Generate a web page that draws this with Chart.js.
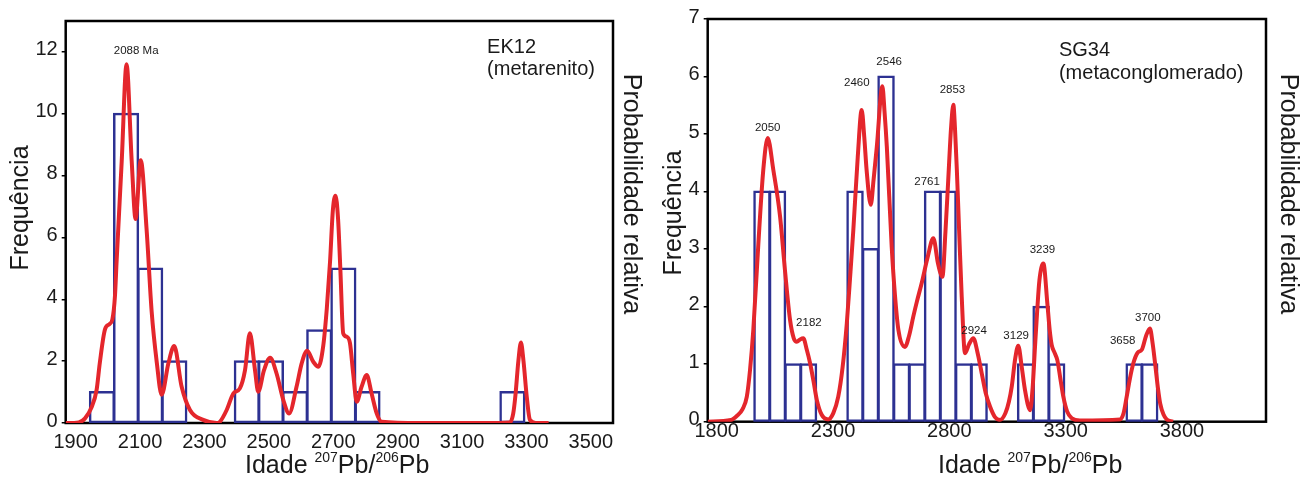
<!DOCTYPE html>
<html>
<head>
<meta charset="utf-8">
<script src="https://cdn.jsdelivr.net/npm/chart.js@4.4.1/dist/chart.umd.min.js"></script>
<style>
  html, body { margin: 0; padding: 0; background: #fff; }
  #wrap { position: relative; width: 1309px; height: 477px; overflow: hidden; }
  canvas { position: absolute; top: 0; }
  #ek12 { left: 0; }
  #sg34 { left: 660px; }
</style>
</head>
<body>
<div id="wrap">
  <canvas id="ek12" width="660" height="477"></canvas>
  <canvas id="sg34" width="649" height="477"></canvas>
</div>
<script>
// EK12 (metarenito): histograma em classes de 75 Ma
const ek12BinStart = [1975, 2050, 2125, 2200, 2425, 2500, 2575, 2650, 2725, 2800, 3250];
const ek12Counts = [1, 10, 5, 2, 2, 2, 1, 3, 5, 1, 1];
const ek12BinWidth = 75;
// curva de probabilidade relativa (em unidades de frequencia)
const ek12CurveAge = [1900, 1940, 1960, 1980, 1996, 2006, 2022, 2036, 2045, 2053, 2058, 2074, 2089, 2105, 2117,
  2133, 2151, 2167, 2183, 2198, 2219, 2237, 2260, 2286, 2327, 2369, 2379, 2400, 2421, 2441, 2457, 2472, 2488, 2498,
  2516, 2535, 2555, 2576, 2594, 2617, 2633, 2650, 2669, 2685, 2700, 2711, 2721, 2730, 2738, 2746, 2753, 2762, 2773,
  2783, 2793, 2804, 2819, 2835, 2850, 2866, 2881, 3000, 3200, 3280, 3290, 3297, 3306, 3314, 3322, 3332, 3342, 3360, 3400];
const ek12CurveProb = [0, 0.02, 0.15, 0.5, 1.07, 1.95, 3.03, 3.2, 3.35, 4.1, 5.2, 8.47, 11.6, 8.47, 6.6,
  8.5, 6.3, 3.6, 1.95, 0.91, 1.93, 2.49, 1.18, 0.42, 0.1, 0, 0.04, 0.42, 0.96, 1.12, 1.71, 2.9, 1.71, 1.01,
  1.71, 2.11, 1.6, 0.74, 0.31, 1.17, 1.93, 2.34, 1.98, 1.82, 2.5, 3.7, 5.2, 6.9, 7.35, 6.6, 5.0, 2.9, 2.79,
  2.58, 1.6, 0.69, 1.17, 1.55, 0.96, 0.31, 0.04, 0, 0, 0.02, 0.3, 0.9, 2.0, 2.6, 2.0, 0.86, 0.1, 0, 0];
const ek12AgeTicks = [1900, 2100, 2300, 2500, 2700, 2900, 3100, 3300, 3500];
const ek12FreqTicks = [0, 2, 4, 6, 8, 10, 12];
const ek12PeakText = ['2088 Ma'];
const ek12PeakAge = [2119];
const ek12PeakLevel = [12.04];

// SG34 (metaconglomerado): classes de 66,7 Ma
const sg34BinStart = [2000, 2066.67, 2133.33, 2200, 2400, 2466.67, 2533.33, 2600, 2666.67, 2733.33,
  2800, 2866.67, 2933.33, 3133.33, 3200, 3266.67, 3600, 3666.67];
const sg34Counts = [4, 4, 1, 1, 4, 3, 6, 1, 1, 4, 4, 1, 1, 1, 2, 1, 1, 1];
const sg34BinWidth = 66.67;
const sg34CurveAge = [1800, 1900, 1925, 1950, 1968, 1982, 1996, 2017, 2039, 2058, 2082, 2111, 2132, 2154, 2170,
  2183, 2197, 2211, 2226, 2240, 2255, 2269, 2290, 2318, 2340, 2361, 2380, 2398, 2412, 2426, 2445, 2462, 2473, 2483,
  2501, 2513, 2527, 2551, 2560, 2570, 2591, 2605, 2620, 2648, 2666, 2684, 2700, 2720, 2745, 2770, 2790, 2809, 2822,
  2834, 2846, 2856, 2863, 2871, 2881, 2892, 2906, 2924, 2942, 2960, 2978, 2995, 3014, 3035, 3057, 3080, 3095, 3107,
  3122, 3135, 3150, 3164, 3186, 3197, 3207, 3216, 3226, 3243, 3260, 3270, 3279, 3291, 3303, 3316, 3329, 3345, 3365,
  3400, 3573, 3588, 3601, 3615, 3630, 3648, 3666, 3685, 3701, 3713, 3723, 3735, 3745, 3760, 3773, 3800];
const sg34CurveProb = [0, 0.03, 0.1, 0.22, 0.43, 0.9, 1.59, 3.04, 4.38, 4.93, 4.38, 3.57, 2.64, 1.77, 1.45,
  1.39, 1.43, 1.45, 1.25, 1.02, 0.7, 0.38, 0.12, 0.04, 0.15, 0.43, 0.95, 1.71, 2.5, 3.33, 4.6, 5.42, 4.95, 4.38,
  3.77, 4.2, 4.78, 5.83, 5.4, 4.78, 3.04, 2.2, 1.59, 1.3, 1.5, 1.83, 2.1, 2.41, 2.85, 3.19, 2.75, 2.52, 3.3,
  4.2, 5.1, 5.51, 5.1, 4.38, 3.3, 2.17, 1.19, 1.35, 1.45, 1.2, 0.84, 0.5, 0.26, 0.08, 0.03, 0.15, 0.35, 0.61,
  1.1, 1.32, 0.95, 0.55, 0.2, 0.6, 1.3, 1.9, 2.46, 2.75, 2.06, 1.6, 1.33, 1.2, 1.07, 0.75, 0.43, 0.18, 0.06,
  0.02, 0.04, 0.15, 0.43, 0.75, 1.02, 1.2, 1.25, 1.5, 1.62, 1.35, 1.02, 0.6, 0.32, 0.12, 0.04, 0];
const sg34AgeTicks = [1800, 2300, 2800, 3300, 3800];
const sg34FreqTicks = [0, 1, 2, 3, 4, 5, 6, 7];
const sg34PeakText = ['2050', '2182', '2460', '2546', '2761', '2853', '2924', '3129', '3239', '3658', '3700'];
const sg34PeakAge = [2058, 2235, 2441, 2580, 2743, 2852, 2945, 3126, 3239, 3584, 3692];
const sg34PeakLevel = [5.11, 1.72, 5.89, 6.26, 4.17, 5.77, 1.58, 1.49, 2.99, 1.41, 1.80];

const FONT = "'Liberation Sans', Arial, Helvetica, sans-serif";
const BLUE = '#2d3192';
const RED = '#e4262c';
const INK = '#1a1a1a';

Chart.defaults.font.family = FONT;
Chart.defaults.color = INK;

// moldura, rotulos dos picos, nomes da amostra e titulos dos eixos
const decor = {
  id: 'decor',
  beforeDatasetsDraw(chart) {
    const { ctx, chartArea: a } = chart;
    ctx.save();
    ctx.lineWidth = 2.5;
    ctx.strokeStyle = '#000';
    ctx.strokeRect(a.left, a.top, a.right - a.left, a.bottom - a.top);
    ctx.restore();
  },
  afterDraw(chart, args, o) {
    const { ctx } = chart;
    const sx = chart.scales.x, sy = chart.scales.y;
    ctx.save();
    ctx.fillStyle = INK;
    ctx.textBaseline = 'middle';

    ctx.font = '20px ' + FONT;
    ctx.textAlign = 'left';
    o.sample.forEach((t, i) => {
      ctx.fillText(t, sx.getPixelForValue(o.sampleAge), sy.getPixelForValue(o.sampleLevel[i]));
    });

    ctx.font = '11.5px ' + FONT;
    ctx.textAlign = 'center';
    o.peakText.forEach((t, i) => {
      ctx.fillText(t, sx.getPixelForValue(o.peakAge[i]), sy.getPixelForValue(o.peakLevel[i]));
    });

    ctx.font = '25px ' + FONT;
    const rotated = (text, x, y, rot) => {
      ctx.save();
      ctx.translate(x, y);
      ctx.rotate(rot);
      ctx.fillText(text, 0, 0);
      ctx.restore();
    };
    rotated('Frequência', o.freqTitle[0], o.freqTitle[1], -Math.PI / 2);
    rotated('Probabilidade relativa', o.probTitle[0], o.probTitle[1], Math.PI / 2);

    // Idade 207Pb/206Pb com sobrescritos
    const parts = [['Idade ', false], ['207', true], ['Pb/', false], ['206', true], ['Pb', false]];
    let cx = o.ageTitle[0];
    ctx.textAlign = 'left';
    ctx.textBaseline = 'alphabetic';
    parts.forEach(([t, sup]) => {
      ctx.font = (sup ? '14px ' : '25px ') + FONT;
      ctx.fillText(t, cx, o.ageTitle[1] - (sup ? 11 : 0));
      cx += ctx.measureText(t).width;
    });
    ctx.restore();
  }
};

function makeChart(id, c) {
  return new Chart(document.getElementById(id), {
    type: 'bar',
    data: {
      datasets: [{
        type: 'line',
        data: c.curveAge.map((a, i) => ({ x: a, y: c.curveProb[i] })),
        yAxisID: 'y2',
        borderColor: RED,
        borderWidth: 4,
        pointRadius: 0,
        fill: false,
        cubicInterpolationMode: 'monotone',
        order: 0
      }, {
        type: 'bar',
        data: c.binStart.map((b, i) => ({ x: b + c.binWidth / 2, y: c.counts[i] })),
        yAxisID: 'y',
        backgroundColor: 'rgba(0,0,0,0)',
        borderColor: BLUE,
        borderWidth: 0.5,
        inflateAmount: 1,
        borderSkipped: false,
        barPercentage: 1,
        categoryPercentage: 1,
        order: 1
      }]
    },
    options: {
      responsive: false,
      animation: false,
      devicePixelRatio: 1,
      layout: { padding: { top: c.top, left: 0, right: 0, bottom: 0 } },
      plugins: {
        legend: { display: false },
        tooltip: { enabled: false },
        decor: c.decor
      },
      scales: {
        x: {
          type: 'linear',
          min: c.xMin,
          max: c.xMax,
          offset: false,
          grid: { display: false, drawTicks: false, offset: false },
          border: { display: false },
          afterBuildTicks: s => { s.ticks = c.xTicks.map(v => ({ value: v })); },
          afterFit: s => { s.height = c.xHeight; },
          ticks: {
            font: { size: 20, lineHeight: 1 },
            color: INK,
            padding: c.xPad,
            labelOffset: c.xLabelOffset,
            maxRotation: 0,
            autoSkip: false,
            callback: v => String(v)
          }
        },
        y: {
          position: 'left',
          min: 0,
          max: c.yMax,
          afterBuildTicks: s => { s.ticks = c.yTicks.map(v => ({ value: v })); },
          afterFit: s => { s.width = c.yWidth; },
          grid: { drawOnChartArea: false, drawTicks: true, tickLength: 4, color: '#000', lineWidth: 1.5 },
          border: { display: false },
          ticks: {
            font: { size: 20 },
            color: INK,
            padding: 4,
            labelOffset: -2,
            autoSkip: false,
            callback: v => String(v)
          }
        },
        y2: {
          position: 'right',
          min: 0,
          max: c.yMax,
          grid: { display: false },
          border: { display: false },
          ticks: { display: false },
          afterFit: s => { s.width = c.y2Width; }
        }
      }
    },
    plugins: [decor]
  });
}

makeChart('ek12', {
  binStart: ek12BinStart, counts: ek12Counts, binWidth: ek12BinWidth,
  curveAge: ek12CurveAge, curveProb: ek12CurveProb,
  xTicks: ek12AgeTicks, yTicks: ek12FreqTicks,
  xMin: 1900, xMax: 3600, yMax: 13,
  top: 21, xHeight: 54, yWidth: 65.7, y2Width: 47, xPad: 9, xLabelOffset: 10,
  decor: {
    sample: ['EK12', '(metarenito)'], sampleAge: 3209, sampleLevel: [12.14, 11.42],
    peakText: ek12PeakText, peakAge: ek12PeakAge, peakLevel: ek12PeakLevel,
    freqTitle: [21, 208], probTitle: [631, 194], ageTitle: [245, 473]
  }
});

makeChart('sg34', {
  binStart: sg34BinStart, counts: sg34Counts, binWidth: sg34BinWidth,
  curveAge: sg34CurveAge, curveProb: sg34CurveProb,
  xTicks: sg34AgeTicks, yTicks: sg34FreqTicks,
  xMin: 1800, xMax: 4200, yMax: 7,
  top: 19, xHeight: 55.3, yWidth: 47.7, y2Width: 43, xPad: 0, xLabelOffset: 9,
  decor: {
    sample: ['SG34', '(metaconglomerado)'], sampleAge: 3310, sampleLevel: [6.46, 6.06],
    peakText: sg34PeakText, peakAge: sg34PeakAge, peakLevel: sg34PeakLevel,
    freqTitle: [14, 213], probTitle: [628, 194], ageTitle: [278, 473]
  }
});
</script>
</body>
</html>
